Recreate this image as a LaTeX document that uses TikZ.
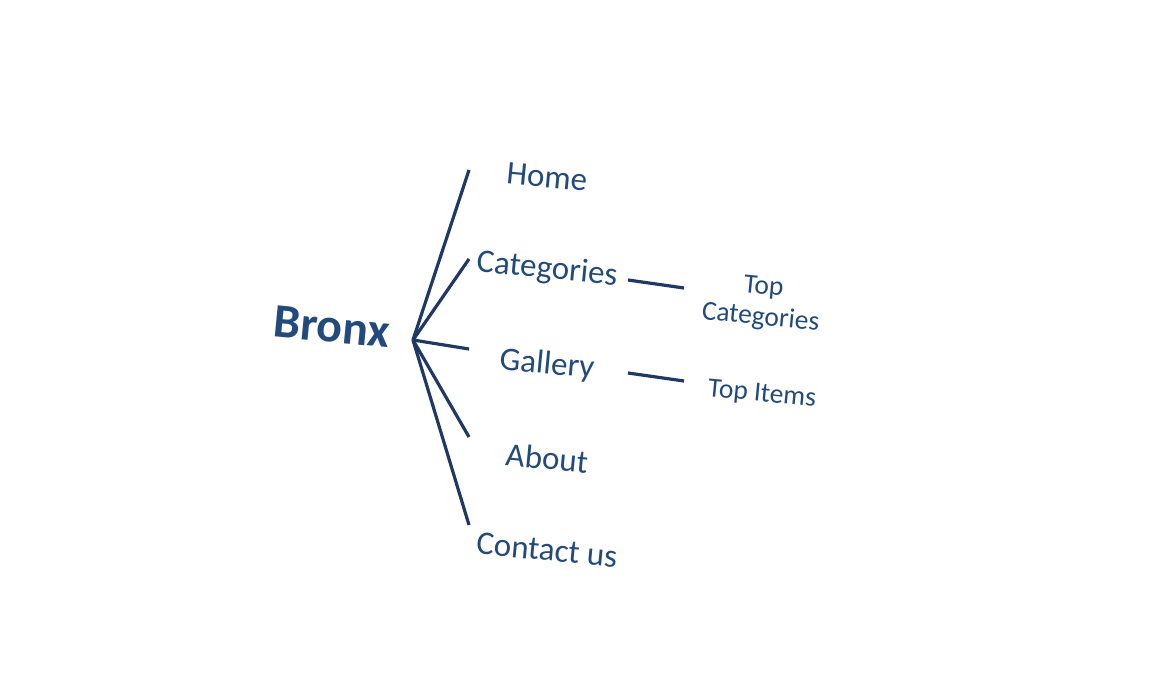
\documentclass[tikz,border=0pt]{standalone}
\usepackage{fontspec}
\setmainfont{Carlito}
\definecolor{txt}{HTML}{234A7C}
\definecolor{ln}{HTML}{1F3864}
\begin{document}
\begin{tikzpicture}[x=1pt,y=-1pt,
  lbl/.style={text=txt,font=\fontsize{33}{35}\selectfont,rotate=-5.5,inner sep=0pt,align=center},
  sublbl/.style={text=txt,font=\fontsize{27.5}{29}\selectfont,rotate=-5.5,inner sep=0pt,align=center},
  conn/.style={draw=ln,line width=3.2pt}]
\useasboundingbox (0,0) rectangle (1162,682);
\node[lbl,font=\bfseries\fontsize{48}{50}\selectfont] (bronx) at (332,327) {Bronx};
\node[lbl] (home) at (547,177) {Home};
\node[lbl] (cat) at (547,270) {Categories};
\node[lbl] (gal) at (547,365) {Gallery};
\node[lbl] (about) at (547,458) {About};
\node[lbl] (contact) at (547,550) {Contact us};
\node[sublbl,font=\fontsize{27.5}{31}\selectfont] (topcat) at (762,303) {Top\\Categories};
\node[sublbl] (topit) at (762,395) {Top Items};
\coordinate (r) at (413,340);
\coordinate (eh) at (469,170);
\coordinate (ec) at (469,259);
\coordinate (eg) at (469,349);
\coordinate (ea) at (469,437);
\coordinate (eu) at (469,525);
\coordinate (c1) at (628,280);
\coordinate (c2) at (684,288);
\coordinate (g1) at (628,373);
\coordinate (g2) at (684,381);
\draw[conn] (r) -- (eh);
\draw[conn] (r) -- (ec);
\draw[conn] (r) -- (eg);
\draw[conn] (r) -- (ea);
\draw[conn] (r) -- (eu);
\draw[conn] (c1) -- (c2);
\draw[conn] (g1) -- (g2);
\end{tikzpicture}
\end{document}
